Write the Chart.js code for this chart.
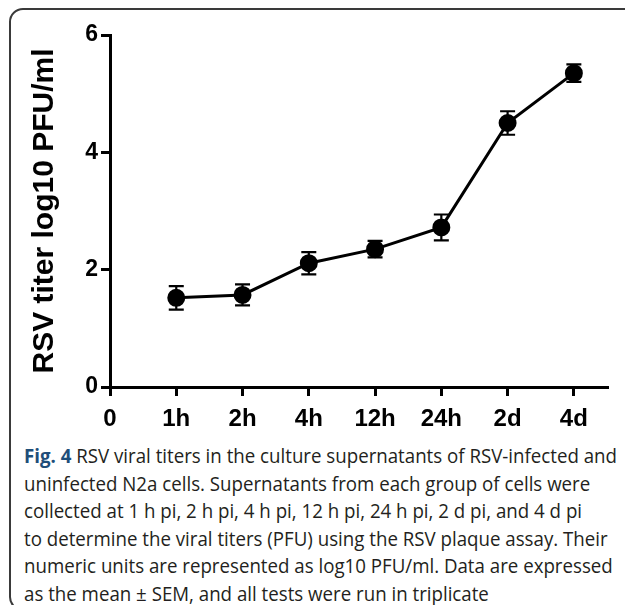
<!DOCTYPE html>
<html>
<head>
<meta charset="utf-8">
<script src="https://cdn.jsdelivr.net/npm/chart.js@4"></script>
<style>
  html, body { margin: 0; padding: 0; background: #fff; }
  body { width: 625px; height: 605px; position: relative; overflow: hidden; }
  #frame { position: absolute; left: 9px; top: 8px; width: 650px; height: 603px;
           border: 2px solid #3a3a3a; border-radius: 14px; box-sizing: border-box; }
  #wrap { position: absolute; left: 0; top: 0; width: 625px; height: 440px; }
  #caption { position: absolute; left: 24px; top: 442px; width: 620px;
             font-family: "Open Sans", "Liberation Sans", sans-serif; font-size: 20px;
             color: #231f20; line-height: 27.6px; }
  #caption .ln { white-space: nowrap; transform-origin: 0 50%; }
  #caption b { color: #1f4e79; font-weight: 700; }
</style>
</head>
<body>
<div id="frame"></div>
<div id="wrap"><canvas id="c" width="625" height="440"></canvas></div>
<div id="caption">
  <div class="ln"><b>Fig. 4</b> RSV viral titers in the culture supernatants of RSV-infected and</div>
  <div class="ln">uninfected N2a cells. Supernatants from each group of cells were</div>
  <div class="ln">collected at 1 h pi, 2 h pi, 4 h pi, 12 h pi, 24 h pi, 2 d pi, and 4 d pi</div>
  <div class="ln">to determine the viral titers (PFU) using the RSV plaque assay. Their</div>
  <div class="ln">numeric units are represented as log10 PFU/ml. Data are expressed</div>
  <div class="ln">as the mean ± SEM, and all tests were run in triplicate</div>
</div>
<script>
// ---- data ----
const categories = ['1h', '2h', '4h', '12h', '24h', '2d', '4d'];
const xTickLabels = ['0', '1h', '2h', '4h', '12h', '24h', '2d', '4d'];
const titerMeans = [1.52, 1.57, 2.11, 2.35, 2.72, 4.50, 5.35];
const titerSEM = [0.20, 0.18, 0.19, 0.14, 0.22, 0.20, 0.15];
const yTicks = [0, 2, 4, 6];

const points = categories.map((c, i) => ({ x: i + 1, y: titerMeans[i] }));

const errorBars = {
  id: 'errorBars',
  afterDatasetsDraw(chart) {
    const { ctx, scales: { x, y } } = chart;
    ctx.save();
    ctx.strokeStyle = '#000';
    ctx.lineWidth = 2.2;
    const cap = 7.5;
    titerMeans.forEach((m, i) => {
      const px = x.getPixelForValue(i + 1);
      const top = y.getPixelForValue(m + titerSEM[i]);
      const bot = y.getPixelForValue(m - titerSEM[i]);
      ctx.beginPath();
      ctx.moveTo(px, top); ctx.lineTo(px, bot);
      ctx.moveTo(px - cap, top); ctx.lineTo(px + cap, top);
      ctx.moveTo(px - cap, bot); ctx.lineTo(px + cap, bot);
      ctx.stroke();
    });
    ctx.restore();
  }
};

new Chart(document.getElementById('c'), {
  type: 'scatter',
  data: {
    datasets: [{
      data: points,
      showLine: true,
      borderColor: '#000',
      backgroundColor: '#000',
      borderWidth: 3,
      pointRadius: 7.5,
      pointHoverRadius: 7.5,
      tension: 0
    }]
  },
  options: {
    responsive: false,
    animation: false,
    events: [],
    layout: { padding: { left: 0, top: 35, right: 18, bottom: 0 } },
    plugins: { legend: { display: false }, tooltip: { enabled: false } },
    scales: {
      x: {
        type: 'linear', min: 0, max: 7.5,
        afterBuildTicks(scale) { scale.ticks = xTickLabels.map((_, i) => ({ value: i })); },
        afterFit(scale) { scale.height = 53; },
        border: { display: true, color: '#000', width: 3 },
        grid: { drawOnChartArea: false, drawTicks: true, tickLength: 9, lineWidth: 3, color: '#000' },
        ticks: {
          autoSkip: false, maxRotation: 0, padding: 9,
          color: '#000',
          font: { family: 'Liberation Sans', weight: 'bold', size: 24 },
          callback: (v) => xTickLabels[v]
        }
      },
      y: {
        min: 0, max: 6,
        afterBuildTicks(scale) { scale.ticks = yTicks.map(v => ({ value: v })); },
        afterFit(scale) { scale.width = 110; },
        border: { display: true, color: '#000', width: 3 },
        grid: { drawOnChartArea: false, drawTicks: true, tickLength: 9, lineWidth: 3, color: '#000' },
        ticks: {
          padding: 3, color: '#000',
          font: { family: 'Liberation Sans', weight: 'bold', size: 23 }
        },
        title: {
          display: true, text: 'RSV titer log10 PFU/ml', color: '#000',
          font: { family: 'Liberation Sans', weight: 'bold', size: 30 },
          padding: { top: 27, bottom: 0 }
        }
      }
    }
  },
  plugins: [errorBars]
});

// fit caption lines to the reference's text width
(function () {
  const lines = document.querySelectorAll('#caption .ln');
  const first = lines[0];
  const r = document.createRange();
  r.selectNodeContents(first);
  const w = r.getBoundingClientRect().width;
  const s = 593 / w;
  lines.forEach(l => { l.style.transform = 'scaleX(' + s + ')'; });
})();
</script>
</body>
</html>
